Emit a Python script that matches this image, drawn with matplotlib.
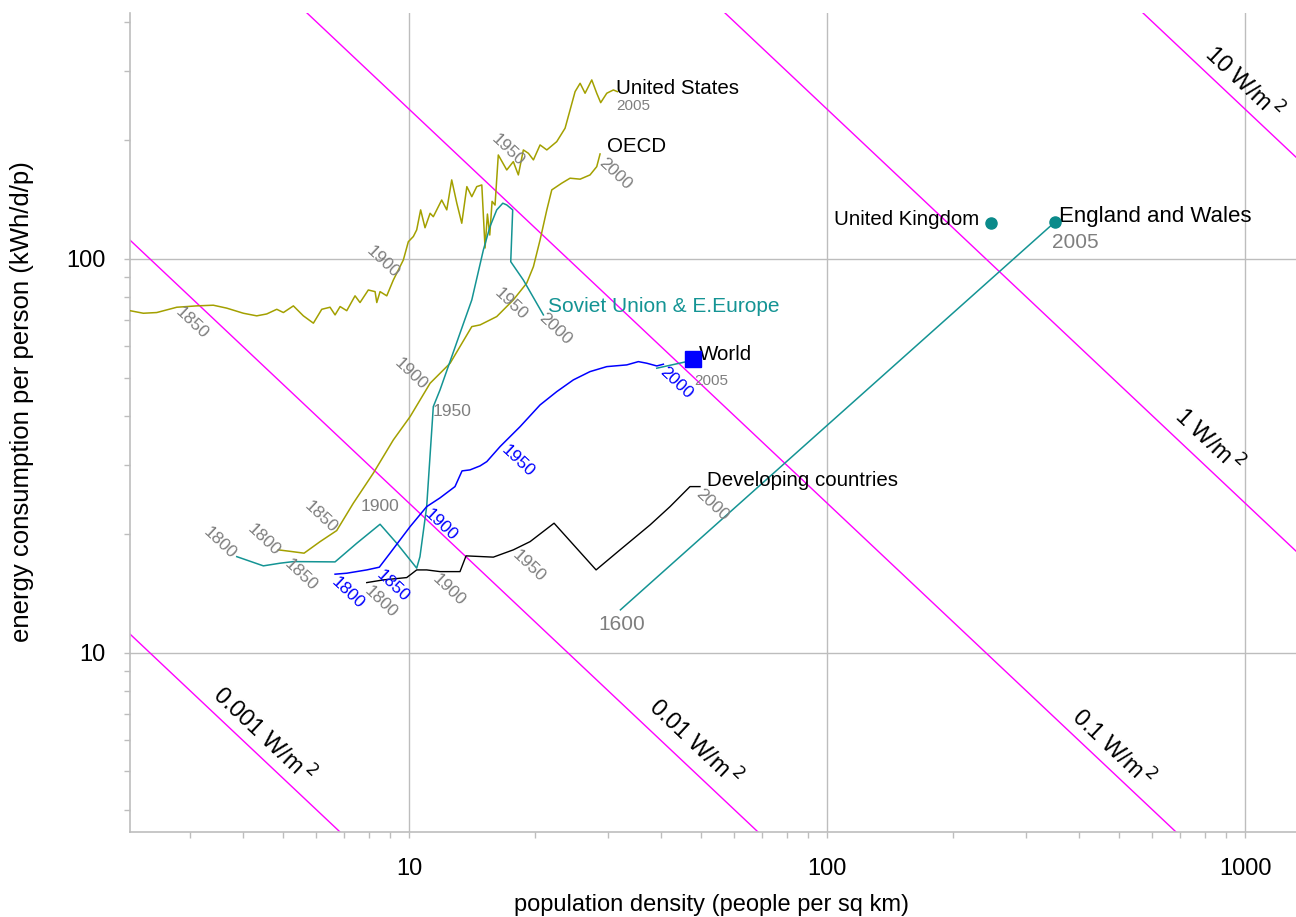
import numpy as np
import matplotlib
matplotlib.use("Agg")
import matplotlib.pyplot as plt
from matplotlib.ticker import LogLocator, FixedLocator, NullFormatter

plt.rcParams['font.family'] = ['Liberation Sans', 'DejaVu Sans']

# ---- series: population density (people/km^2) vs energy use (kWh/d per person) ----
us_x = [2.150, 2.314, 2.491, 2.782, 3.105, 3.402, 3.664, 4.015, 4.321, 4.566, 4.826, 5.005,
        5.288, 5.587, 5.904, 6.183, 6.471, 6.653, 6.840, 7.096, 7.427, 7.634, 7.990, 8.294,
        8.372, 8.524, 8.845, 9.171, 9.691, 9.961, 10.24, 10.43, 10.66, 10.92, 11.23, 11.43,
        11.97, 12.31, 12.65, 13.01, 13.37, 13.75, 14.13, 14.52, 14.93, 15.20, 15.40, 15.60,
        15.80, 16.06, 16.35, 17.13, 17.76, 18.26, 18.77, 19.30, 19.84, 20.58, 21.36, 22.56,
        23.62, 24.96, 25.66, 26.37, 27.36, 28.12, 28.74, 29.72, 30.82, 31.50]
us_y = [73.9, 72.8, 73.1, 75.4, 76.0, 76.3, 75.0, 72.8, 71.7, 72.5, 74.5, 73.1,
        76.0, 71.7, 68.7, 74.5, 75.4, 72.1, 75.7, 73.9, 80.6, 77.5, 83.4, 82.6,
        77.5, 82.6, 80.6, 88.4, 99.4, 110.6, 114.0, 118.5, 133.2, 120.0, 130.6, 128.0,
        141.1, 133.2, 158.7, 138.5, 123.2, 152.6, 143.9, 152.6, 154.1, 106.6, 130.0, 115.0,
        140.0, 137.0, 183.6, 168.2, 176.6, 163.4, 189.1, 185.4, 178.4, 194.7, 189.1, 198.5,
        214.7, 265.9, 279.2, 263.4, 284.7, 263.4, 249.3, 263.4, 268.5, 265.9]

oecd_x = [4.867, 5.242, 5.609, 6.126, 6.714, 7.358, 8.212, 9.171, 10.06, 11.23, 12.54,
          14.13, 14.79, 16.21, 17.76, 19.12, 19.84, 20.58, 21.36, 21.95, 23.19, 24.28,
          25.66, 27.10, 28.12, 28.64]
oecd_y = [18.26, 18.08, 17.91, 19.16, 20.44, 23.99, 28.58, 34.72, 39.79, 48.36, 54.36,
          67.33, 68.0, 71.4, 78.7, 86.8, 95.6, 111.7, 133.2, 149.7, 155.7, 160.3,
          159.4, 163.4, 171.5, 184.7]

soviet_x = [3.871, 4.482, 4.913, 5.288, 6.653, 7.498, 8.524, 9.345, 10.43, 10.62, 11.02,
            11.43, 11.86, 13.24, 14.13, 15.06, 15.62, 16.21, 16.76, 17.13, 17.70, 17.51,
            18.77, 20.96]
soviet_y = [17.55, 16.63, 16.89, 17.05, 17.02, 18.98, 21.21, 18.98, 16.41, 17.55, 23.51,
            42.18, 46.50, 64.78, 78.7, 105.4, 120.8, 133.2, 138.5, 137.1, 133.2, 98.4,
            88.4, 72.1]

world_x = [6.653, 7.096, 7.922, 8.489, 9.006, 10.06, 11.02, 11.86, 12.88, 13.39, 13.99,
           14.79, 15.35, 16.51, 18.44, 20.58, 22.56, 24.72, 27.10, 29.72, 33.18, 35.37,
           37.04, 39.14, 40.59]
world_y = [15.84, 15.93, 16.24, 16.50, 17.91, 20.92, 23.51, 24.74, 26.43, 28.97, 29.14,
           29.83, 30.59, 33.39, 37.53, 42.60, 46.04, 49.31, 51.76, 53.29, 53.83, 54.87,
           54.36, 53.50, 54.04]
world_recent_x = [39.14, 46.16]
world_recent_y = [52.8, 54.87]
world_2005 = (47.87, 55.65)

developing_x = [7.922, 8.680, 9.874, 10.43, 11.02, 11.86, 13.24, 13.69, 15.91, 17.76,
                19.48, 22.23, 28.02, 31.97, 37.73, 42.11, 47.00, 49.67]
developing_y = [15.08, 15.32, 15.53, 16.24, 16.24, 16.08, 16.08, 17.63, 17.50, 18.26,
                19.16, 21.34, 16.24, 18.26, 21.13, 23.51, 26.43, 26.43]

england_x = [32.04, 351.9]
england_y = [12.86, 124.4]
uk_point = (246.3, 123.2)

# constant power-per-area lines, W/m^2
power_levels = [0.001, 0.01, 0.1, 1, 10]
power_labels = ["0.001 W/m$^{\\,2}$", "0.01 W/m$^{\\,2}$", "0.1 W/m$^{\\,2}$",
                "1 W/m$^{\\,2}$", "10 W/m$^{\\,2}$"]
power_label_x = [4.47, 48.1, 483.0, 815.0, 989.0]
power_label_y = [6.19, 5.91, 5.74, 34.7, 281.0]

# year annotations
year_text = ["1850", "1900", "1950",
             "1800", "1850", "1900", "1950", "2000",
             "1800", "1850", "1900", "1950", "2000",
             "1800", "1850", "1900", "1950", "2000",
             "1800", "1900", "1950", "2000"]
year_x = [3.021, 8.633, 17.22,
          4.482, 6.149, 10.09, 17.51, 31.11,
          3.530, 5.508, 8.524, 12.65, 22.39,
          7.118, 9.121, 11.90, 18.26, 43.45,
          8.557, 12.47, 19.40, 53.17]
year_y = [68.7, 98.4, 189.1,
          19.36, 22.10, 51.07, 76.9, 164.3,
          18.98, 15.78, 23.51, 40.97, 66.3,
          14.17, 14.74, 21.13, 30.77, 48.54,
          13.50, 14.45, 16.63, 23.75]
year_color = ["grey"] * 13 + ["blue"] * 5 + ["grey"] * 4
year_tilted = [True] * 10 + [False, False, True] + [True] * 9

OLIVE = "#a3a000"
TEAL = "#149494"
GREY = "#7f7f7f"
GRIDC = "#bdbdbd"
MAGENTA = "#ff00ff"

fig = plt.figure(figsize=(12.96, 9.17), dpi=100)
ax = fig.add_axes([130 / 1296, 85 / 917, 1166 / 1296, 819 / 917])
ax.set_xscale("log")
ax.set_yscale("log")
ax.set_xlim(2.15, 1324)
ax.set_ylim(3.51, 421)

for s in ("top", "right"):
    ax.spines[s].set_visible(False)
for s in ("left", "bottom"):
    ax.spines[s].set_color(GRIDC)
    ax.spines[s].set_linewidth(1.2)

ax.xaxis.set_major_locator(FixedLocator([10, 100, 1000]))
ax.yaxis.set_major_locator(FixedLocator([10, 100]))
ax.xaxis.set_minor_locator(LogLocator(base=10, subs=np.arange(2, 10)))
ax.yaxis.set_minor_locator(LogLocator(base=10, subs=np.arange(2, 10)))
ax.xaxis.set_minor_formatter(NullFormatter())
ax.yaxis.set_minor_formatter(NullFormatter())
ax.set_xticklabels(["10", "100", "1000"])
ax.set_yticklabels(["10", "100"])
ax.tick_params(which="both", color=GRIDC, labelsize=17, width=1)
ax.tick_params(which="major", length=4.5)
ax.tick_params(which="minor", length=4)
ax.tick_params(axis="x", which="major", pad=14)
ax.tick_params(axis="y", which="major", pad=13)
ax.grid(which="major", color=GRIDC, linewidth=1)
ax.set_axisbelow(True)

# power density lines
xs = np.logspace(np.log10(1.5), np.log10(1500), 200)
p0 = ax.transData.transform((10, 2400))
p1 = ax.transData.transform((100, 240))
line_angle = np.degrees(np.arctan2(p1[1] - p0[1], p1[0] - p0[0]))
for P, lab, lx, ly in zip(power_levels, power_labels, power_label_x, power_label_y):
    ax.plot(xs, 24000 * P / xs, color=MAGENTA, lw=1.0, zorder=1)
    ax.text(lx, ly, lab, rotation=line_angle, ha="center", va="center",
            fontsize=17, color="black", rotation_mode="anchor")

# series
ax.plot(us_x, us_y, color=OLIVE, lw=1.1, zorder=3)
ax.plot(oecd_x, oecd_y, color=OLIVE, lw=1.1, zorder=3)
ax.plot(soviet_x, soviet_y, color=TEAL, lw=1.1, zorder=3)
ax.plot(world_x, world_y, color="blue", lw=1.1, zorder=3)
ax.plot(world_recent_x, world_recent_y, color=TEAL, lw=1.1, zorder=3)
ax.plot([world_2005[0]], [world_2005[1]], marker="s", color="blue", markersize=11, zorder=4)
ax.plot(developing_x, developing_y, color="black", lw=1.0, zorder=3)
ax.plot(england_x, england_y, color=TEAL, lw=1.1, zorder=3)
ax.plot([england_x[-1]], [england_y[-1]], marker="o", color="#0a8a8a", markersize=8, zorder=4)
ax.plot([uk_point[0]], [uk_point[1]], marker="o", color="#0a8a8a", markersize=8, zorder=4)

# year annotations
for t, x, y, c, tilt in zip(year_text, year_x, year_y, year_color, year_tilted):
    ax.text(x, y, t, color=GREY if c == "grey" else "blue", fontsize=12.5,
            rotation=line_angle if tilt else 0, ha="center", va="center",
            rotation_mode="anchor", zorder=5)

# series names
ax.text(31.28, 270.1, "United States", fontsize=14.8, ha="left", va="center")
ax.text(31.28, 244.5, "2005", fontsize=11, color=GREY, ha="left", va="center")
ax.text(29.76, 192.4, "OECD", fontsize=14.8, ha="left", va="center")
ax.text(21.51, 75.6, "Soviet Union & E.Europe", fontsize=15, color=TEAL, ha="left", va="center")
ax.text(49.4, 57.06, "World", fontsize=14.8, ha="left", va="center")
ax.text(48.05, 49.02, "2005", fontsize=11, color=GREY, ha="left", va="center")
ax.text(51.63, 27.32, "Developing countries", fontsize=14.8, ha="left", va="center")
ax.text(231.0, 125.6, "United Kingdom", fontsize=14.7, ha="right", va="center")
ax.text(358.9, 127.8, "England and Wales", fontsize=16, ha="left", va="center")
ax.text(345.4, 110.4, "2005", fontsize=15, color=GREY, ha="left", va="center")
ax.text(32.33, 11.78, "1600", fontsize=15, color=GREY, ha="center", va="center")

fig.text(711 / 1296, 1 - 905 / 917, "population density (people per sq km)",
         fontsize=17, ha="center", va="center")
fig.text(22 / 1296, 1 - 402 / 917, "energy consumption per person (kWh/d/p)",
         fontsize=18.5, ha="center", va="center", rotation=90)

fig.savefig("out.png", dpi=100)
